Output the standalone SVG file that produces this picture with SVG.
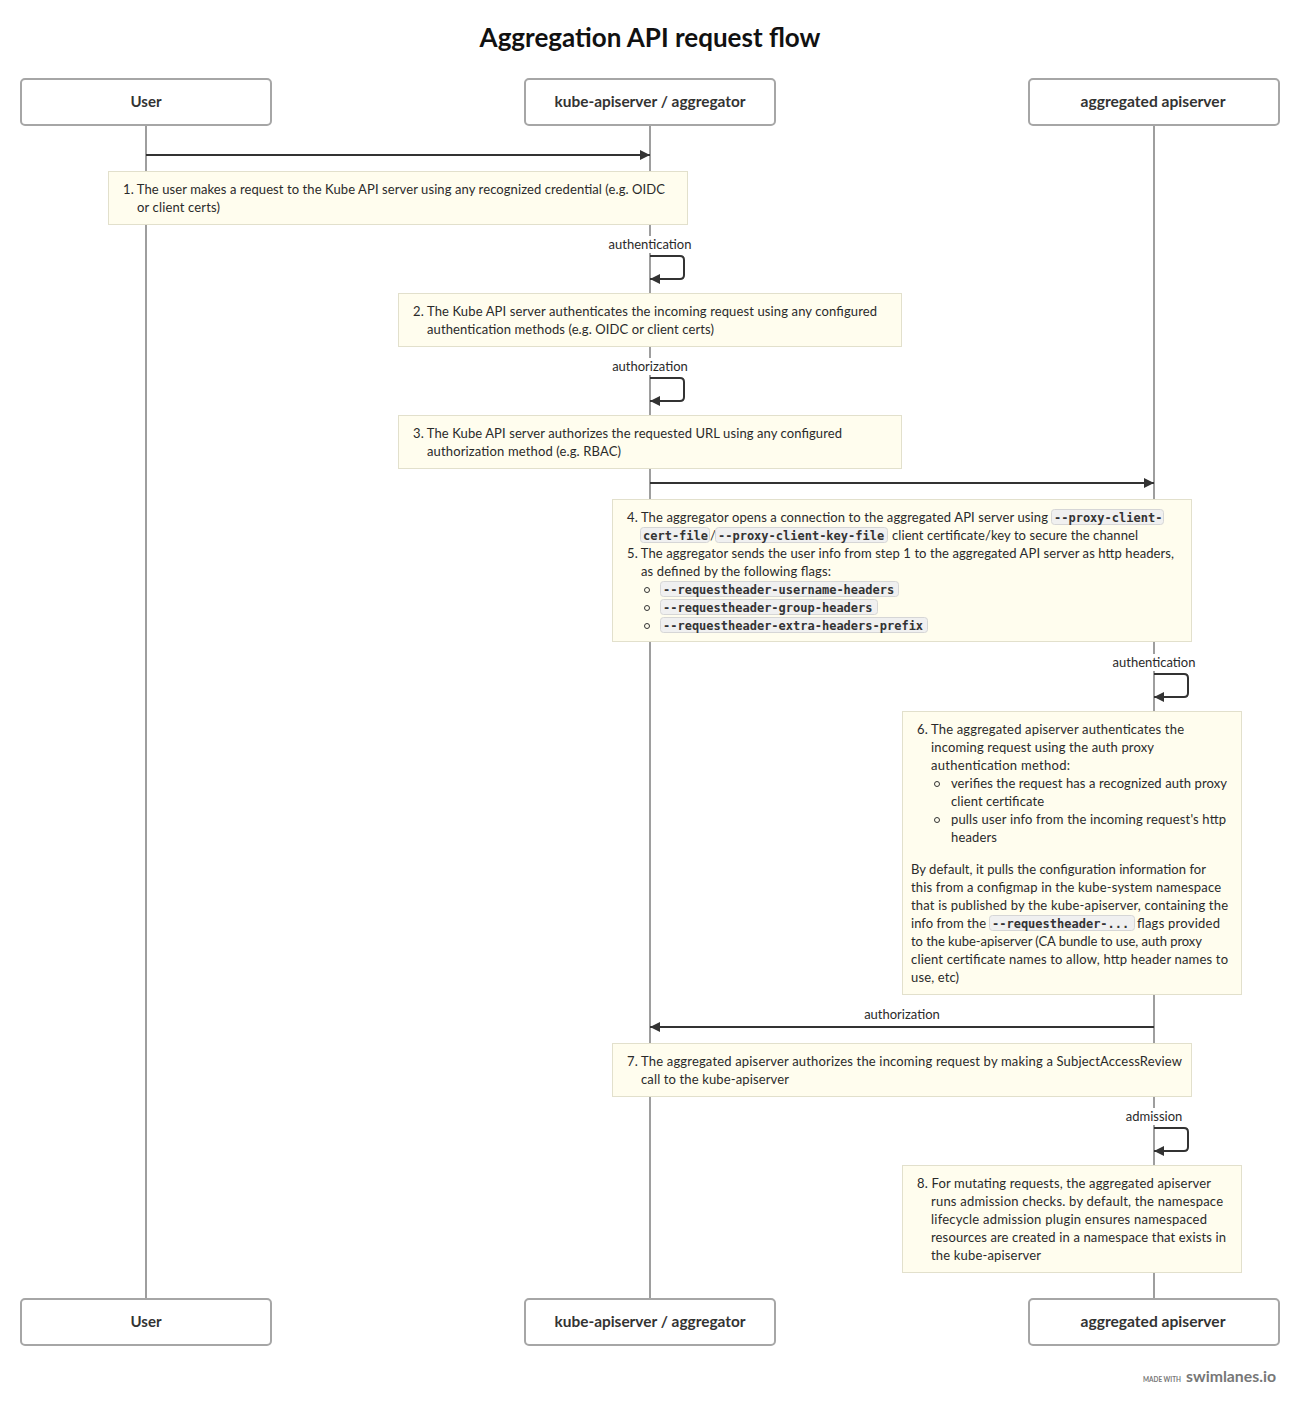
<svg xmlns="http://www.w3.org/2000/svg" width="1300" height="1406" viewBox="0 0 1300 1406">
<defs>
<style>
.bg{fill:#ffffff}
.title{font-family:Lato,"Open Sans","Liberation Sans",sans-serif;font-weight:700;font-size:26px;fill:#111111;text-anchor:middle}
.actor rect{fill:#ffffff;stroke:#a6a6a6;stroke-width:2}
.actor text{font-family:Lato,"Open Sans","Liberation Sans",sans-serif;font-weight:700;font-size:15px;fill:#333333;text-anchor:middle}
.life{stroke:#9e9e9e;stroke-width:2;fill:none}
.msg{stroke:#333333;stroke-width:2;fill:none}
.lbl{font-family:Lato,"Open Sans","Liberation Sans",sans-serif;font-size:13px;fill:#2a2a2a;text-anchor:middle}
.lblbg{fill:#ffffff}
.note rect.box{fill:#fffdee;stroke:#e2e0cc;stroke-width:1}
.note text{font-family:Lato,"Open Sans","Liberation Sans",sans-serif;font-size:13px;fill:#2a2a2a}
.note text.code{font-family:"DejaVu Sans Mono","Liberation Mono",monospace;font-weight:700;font-size:12px;fill:#333333}
.note rect.cbox{fill:#f0f0f0;stroke:#d6d6d6;stroke-width:1}
.note circle{fill:none;stroke:#333333;stroke-width:1}
.foot1{font-family:Lato,"Liberation Sans",sans-serif;font-weight:700;font-size:7px;fill:#777777}
.foot2{font-family:Lato,"Liberation Sans",sans-serif;font-weight:700;font-size:15px;fill:#777777}
</style>
<marker id="ah" viewBox="0 0 10 10" refX="10" refY="5" markerWidth="10" markerHeight="10" markerUnits="userSpaceOnUse" orient="auto">
<path d="M0,0 L10,5 L0,10 Z" fill="#333333"/>
</marker>
</defs>
<rect class="bg" x="0" y="0" width="1300" height="1406"/>
<text class="title" x="650" y="47">Aggregation API request flow</text>

<g id="lifelines">
<line class="life" x1="146" y1="125" x2="146" y2="1299"/>
<line class="life" x1="650" y1="125" x2="650" y2="1299"/>
<line class="life" x1="1154" y1="125" x2="1154" y2="1299"/>
</g>

<g id="actor-user" class="actor">
<rect x="21" y="79" width="250" height="46" rx="4"/>
<text x="146" y="107">User</text>
<rect x="21" y="1299" width="250" height="46" rx="4"/>
<text x="146" y="1327">User</text>
</g>
<g id="actor-kube" class="actor">
<rect x="525" y="79" width="250" height="46" rx="4"/>
<text x="650" y="107" textLength="191" lengthAdjust="spacingAndGlyphs">kube-apiserver / aggregator</text>
<rect x="525" y="1299" width="250" height="46" rx="4"/>
<text x="650" y="1327" textLength="191" lengthAdjust="spacingAndGlyphs">kube-apiserver / aggregator</text>
</g>
<g id="actor-aggregated" class="actor">
<rect x="1029" y="79" width="250" height="46" rx="4"/>
<text x="1153" y="107" textLength="145" lengthAdjust="spacingAndGlyphs">aggregated apiserver</text>
<rect x="1029" y="1299" width="250" height="46" rx="4"/>
<text x="1153" y="1327" textLength="145" lengthAdjust="spacingAndGlyphs">aggregated apiserver</text>
</g>

<g id="connectors">
<line class="msg" x1="146" y1="155" x2="650" y2="155" marker-end="url(#ah)"/>
<rect class="lblbg" x="605" y="236" width="90" height="17"/>
<text class="lbl" x="650" y="249">authentication</text>
<path class="msg" d="M650,256 H680 Q684,256 684,260 V275 Q684,279 680,279 H650" marker-end="url(#ah)"/>
<rect class="lblbg" x="609" y="358" width="82" height="17"/>
<text class="lbl" x="650" y="371">authorization</text>
<path class="msg" d="M650,378 H680 Q684,378 684,382 V397 Q684,401 680,401 H650" marker-end="url(#ah)"/>
<line class="msg" x1="650" y1="483" x2="1154" y2="483" marker-end="url(#ah)"/>
<rect class="lblbg" x="1109" y="654" width="90" height="17"/>
<text class="lbl" x="1154" y="667">authentication</text>
<path class="msg" d="M1154,674 H1184 Q1188,674 1188,678 V693 Q1188,697 1184,697 H1154" marker-end="url(#ah)"/>
<text class="lbl" x="902" y="1019">authorization</text>
<line class="msg" x1="1154" y1="1027" x2="650" y2="1027" marker-end="url(#ah)"/>
<rect class="lblbg" x="1122" y="1108" width="64" height="17"/>
<text class="lbl" x="1154" y="1121">admission</text>
<path class="msg" d="M1154,1128 H1184 Q1188,1128 1188,1132 V1147 Q1188,1151 1184,1151 H1154" marker-end="url(#ah)"/>
</g>

<g id="note1" class="note">
<rect class="box" x="108.5" y="171.5" width="579" height="53"/>
<text x="123" y="193.5" textLength="542" lengthAdjust="spacing">1. The user makes a request to the Kube API server using any recognized credential (e.g. OIDC</text>
<text x="137" y="211.5" textLength="83" lengthAdjust="spacing">or client certs)</text>
</g>

<g id="note2" class="note">
<rect class="box" x="398.5" y="293.5" width="503" height="53"/>
<text x="413" y="315.5" textLength="464" lengthAdjust="spacing">2. The Kube API server authenticates the incoming request using any configured</text>
<text x="427" y="333.5" textLength="287" lengthAdjust="spacing">authentication methods (e.g. OIDC or client certs)</text>
</g>

<g id="note3" class="note">
<rect class="box" x="398.5" y="415.5" width="503" height="53"/>
<text x="413" y="437.5" textLength="429" lengthAdjust="spacing">3. The Kube API server authorizes the requested URL using any configured</text>
<text x="427" y="455.5" textLength="194" lengthAdjust="spacing">authorization method (e.g. RBAC)</text>
</g>

<g id="note4" class="note">
<rect class="box" x="612.5" y="499.5" width="579" height="142"/>
<text x="627" y="521.5" textLength="421" lengthAdjust="spacing">4. The aggregator opens a connection to the aggregated API server using</text>
<rect class="cbox" x="1051.5" y="509.5" width="112" height="15" rx="3"/>
<text class="code" x="1054" y="521.5">--proxy-client-</text>
<rect class="cbox" x="640.5" y="527.5" width="69" height="15" rx="3"/>
<text class="code" x="643" y="539.5">cert-file</text>
<text x="710" y="539.5">/</text>
<rect class="cbox" x="715.5" y="527.5" width="172" height="15" rx="3"/>
<text class="code" x="718" y="539.5">--proxy-client-key-file</text>
<text x="892" y="539.5" textLength="246" lengthAdjust="spacing">client certificate/key to secure the channel</text>
<text x="627" y="557.5" textLength="547" lengthAdjust="spacing">5. The aggregator sends the user info from step 1 to the aggregated API server as http headers,</text>
<text x="641" y="575.5" textLength="190" lengthAdjust="spacing">as defined by the following flags:</text>
<circle cx="647" cy="590" r="2.5"/>
<rect class="cbox" x="660.5" y="581.5" width="238" height="15" rx="3"/>
<text class="code" x="663" y="593.5">--requestheader-username-headers</text>
<circle cx="647" cy="608" r="2.5"/>
<rect class="cbox" x="660.5" y="599.5" width="217" height="15" rx="3"/>
<text class="code" x="663" y="611.5">--requestheader-group-headers</text>
<circle cx="647" cy="626" r="2.5"/>
<rect class="cbox" x="660.5" y="617.5" width="267" height="15" rx="3"/>
<text class="code" x="663" y="629.5">--requestheader-extra-headers-prefix</text>
</g>

<g id="note6" class="note">
<rect class="box" x="902.5" y="711.5" width="339" height="283"/>
<text x="917" y="733.5" textLength="267" lengthAdjust="spacing">6. The aggregated apiserver authenticates the</text>
<text x="931" y="751.5" textLength="223" lengthAdjust="spacing">incoming request using the auth proxy</text>
<text x="931" y="769.5" textLength="139" lengthAdjust="spacing">authentication method:</text>
<circle cx="937" cy="784" r="2.5"/>
<text x="951" y="787.5" textLength="276" lengthAdjust="spacing">verifies the request has a recognized auth proxy</text>
<text x="951" y="805.5" textLength="93" lengthAdjust="spacing">client certificate</text>
<circle cx="937" cy="820" r="2.5"/>
<text x="951" y="823.5" textLength="275" lengthAdjust="spacing">pulls user info from the incoming request's http</text>
<text x="951" y="841.5" textLength="46" lengthAdjust="spacing">headers</text>
<text x="911" y="873.5" textLength="295" lengthAdjust="spacing">By default, it pulls the configuration information for</text>
<text x="911" y="891.5" textLength="310" lengthAdjust="spacing">this from a configmap in the kube-system namespace</text>
<text x="911" y="909.5" textLength="317" lengthAdjust="spacing">that is published by the kube-apiserver, containing the</text>
<text x="911" y="927.5" textLength="75" lengthAdjust="spacing">info from the</text>
<rect class="cbox" x="989.5" y="915.5" width="145" height="15" rx="3"/>
<text class="code" x="992" y="927.5">--requestheader-...</text>
<text x="1137" y="927.5" textLength="83" lengthAdjust="spacing">flags provided</text>
<text x="911" y="945.5" textLength="291" lengthAdjust="spacing">to the kube-apiserver (CA bundle to use, auth proxy</text>
<text x="911" y="963.5" textLength="317" lengthAdjust="spacing">client certificate names to allow, http header names to</text>
<text x="911" y="981.5" textLength="48" lengthAdjust="spacing">use, etc)</text>
</g>

<g id="note7" class="note">
<rect class="box" x="612.5" y="1043.5" width="579" height="53"/>
<text x="627" y="1065.5" textLength="555" lengthAdjust="spacing">7. The aggregated apiserver authorizes the incoming request by making a SubjectAccessReview</text>
<text x="641" y="1083.5" textLength="148" lengthAdjust="spacing">call to the kube-apiserver</text>
</g>

<g id="note8" class="note">
<rect class="box" x="902.5" y="1165.5" width="339" height="107"/>
<text x="917" y="1187.5" textLength="294" lengthAdjust="spacing">8. For mutating requests, the aggregated apiserver</text>
<text x="931" y="1205.5" textLength="292" lengthAdjust="spacing">runs admission checks. by default, the namespace</text>
<text x="931" y="1223.5" textLength="276" lengthAdjust="spacing">lifecycle admission plugin ensures namespaced</text>
<text x="931" y="1241.5" textLength="295" lengthAdjust="spacing">resources are created in a namespace that exists in</text>
<text x="931" y="1259.5" textLength="110" lengthAdjust="spacing">the kube-apiserver</text>
</g>

<g id="footer">
<text class="foot1" x="1143" y="1382" textLength="38" lengthAdjust="spacingAndGlyphs">MADE WITH</text>
<text class="foot2" x="1186" y="1382" textLength="90" lengthAdjust="spacingAndGlyphs">swimlanes.io</text>
</g>
</svg>
